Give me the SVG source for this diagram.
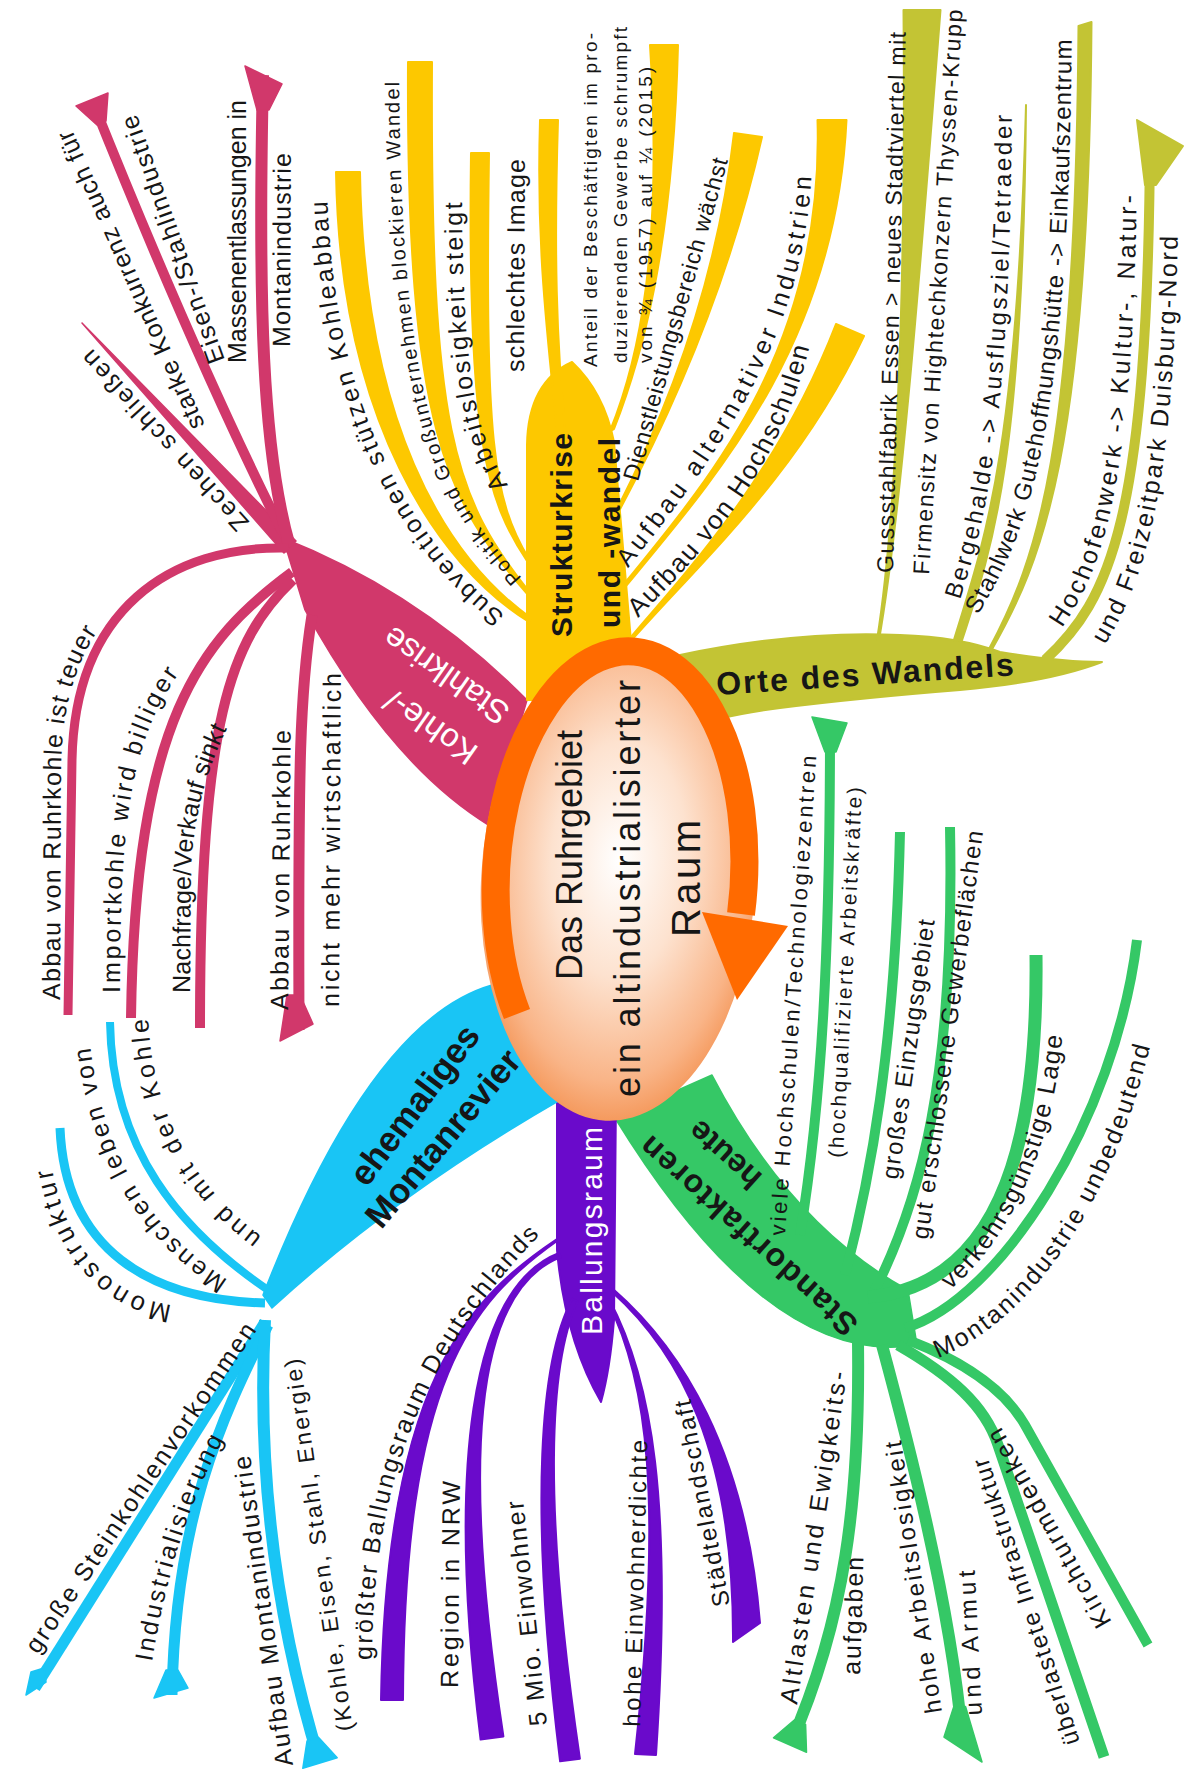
<svg xmlns="http://www.w3.org/2000/svg" width="1195" height="1787" viewBox="0 0 1195 1787">
<defs>
<style>
.t{font-family:"Liberation Sans",Arial,sans-serif;fill:#161616}
.b{font-weight:bold}
.w{fill:#ffffff}
.mg{fill:#d1386b;stroke:#d1386b;stroke-width:1.5;stroke-linejoin:round}
.mgs{fill:none;stroke:#d1386b}
.yl{fill:#fdc800;stroke:#fdc800;stroke-width:2;stroke-linejoin:round}
.ol{fill:#c3c434;stroke:#c3c434;stroke-width:2;stroke-linejoin:round}
.ols{fill:none;stroke:#c3c434}
.gr{fill:#35c866;stroke:#35c866;stroke-width:1.5;stroke-linejoin:round}
.grs{fill:none;stroke:#35c866}
.pu{fill:#6a0acb;stroke:#6a0acb;stroke-width:2;stroke-linejoin:round}
.cy{fill:#19c5f5;stroke:#19c5f5;stroke-width:1.5;stroke-linejoin:round}
.cys{fill:none;stroke:#19c5f5}
</style>
<radialGradient id="eg" cx="0.5" cy="0.45" r="0.55">
<stop offset="0" stop-color="#ffffff"/>
<stop offset="0.45" stop-color="#fde2cf"/>
<stop offset="0.85" stop-color="#f9b487"/>
<stop offset="1" stop-color="#f59a5e"/>
</radialGradient>
<path id="tp-zechen" d="M 250,522 L 72,326"/>
<path id="tp-starke" d="M 205,425 L 62,107"/>
<path id="tp-eisen" d="M 225,360 L 128,90"/>
<path id="tp-massen" d="M 246,363 L 246,70"/>
<path id="tp-montan" d="M 290,347 L 291,120"/>
<path id="tp-abbau1" d="M 60,1000 L 61,770 C 62,680 90,630 130,595 L 160,575"/>
<path id="tp-import" d="M 120,993 C 120,820 130,730 190,660 L 210,640"/>
<path id="tp-nach" d="M 190,993 L 191,870 Q 196,760 262,672 L 280,660"/>
<path id="tp-abbau2" d="M 288,1010 L 291,700"/>
<path id="tp-nicht" d="M 339,1007 L 341,640"/>
<path id="tp-subv" d="M 505,615 C 425,550 330,425 327,180"/>
<path id="tp-politik" d="M 522,578 C 445,492 400,425 399,60"/>
<path id="tp-arbeit" d="M 508,485 C 477,436 462,380 462,185"/>
<path id="tp-image" d="M 524,372 L 525,130"/>
<path id="tp-ant1" d="M 597,367 L 597,20"/>
<path id="tp-ant2" d="M 627,363 L 627,15"/>
<path id="tp-ant3" d="M 652,363 L 652,40"/>
<path id="tp-dienst" d="M 638,482 L 734,139"/>
<path id="tp-altern" d="M 628,568 C 712,462 812,335 812,150"/>
<path id="tp-hoch" d="M 638,618 C 710,545 790,460 815,320"/>
<path id="tp-guss" d="M 893,573 L 906,20"/>
<path id="tp-firmen" d="M 929,575 L 963,0"/>
<path id="tp-berg" d="M 960,600 C 985,520 1010,440 1012,95"/>
<path id="tp-stahl" d="M 978,615 C 1028,530 1070,440 1072,10"/>
<path id="tp-ofen1" d="M 1062,628 C 1105,565 1134,480 1137,170"/>
<path id="tp-ofen2" d="M 1105,645 C 1148,575 1175,480 1178,215"/>
<path id="tp-viele" d="M 785,1236 L 817,745"/>
<path id="tp-hochq" d="M 843,1158 L 863,770"/>
<path id="tp-gross" d="M 898,1180 L 937,905"/>
<path id="tp-gut" d="M 928,1240 L 986,810"/>
<path id="tp-verk" d="M 950,1290 C 1010,1240 1060,1140 1064,1005"/>
<path id="tp-gmon" d="M 938,1358 C 1030,1322 1120,1200 1157,1015"/>
<path id="tp-alt1" d="M 797,1705 L 849,1360"/>
<path id="tp-alt2" d="M 860,1675 L 864,1540"/>
<path id="tp-hohe1" d="M 942,1712 L 898,1420"/>
<path id="tp-hohe2" d="M 982,1715 L 974,1555"/>
<path id="tp-uber" d="M 1080,1742 L 975,1418"/>
<path id="tp-kirch" d="M 1112,1622 L 985,1399"/>
<path id="tp-pgross" d="M 372,1660 C 372,1460 440,1330 560,1215"/>
<path id="tp-region" d="M 458,1688 L 460,1470"/>
<path id="tp-5mio" d="M 547,1725 L 521,1480"/>
<path id="tp-phohe" d="M 640,1727 L 648,1420"/>
<path id="tp-stadt" d="M 730,1605 L 688,1385"/>
<path id="tp-mono" d="M 172,1305 C 120,1298 50,1255 46,1110"/>
<path id="tp-mensch" d="M 228,1280 C 150,1230 96,1150 88,1020"/>
<path id="tp-und" d="M 262,1237 C 200,1190 150,1120 148,1010"/>
<path id="tp-grosse" d="M 38,1655 L 265,1318"/>
<path id="tp-indus" d="M 152,1662 C 166,1580 186,1500 235,1420"/>
<path id="tp-aufb1" d="M 293,1765 L 248,1440"/>
<path id="tp-aufb2" d="M 353,1730 L 298,1345"/>
</defs>
<rect width="1195" height="1787" fill="#ffffff"/>

<g id="connectors">
<!-- magenta -->
<path class="mg" d="M 283,538 Q 420,592 527,700 L 490,826 Q 390,765 305,610 Z"/>
<polygon class="mg" points="296,541 284,553 82,323"/>
<path class="mgs" stroke-width="10" d="M 290,547 C 230,429 164,280 92,100"/>
<polygon class="mg" points="108,93 106,121 97,125 76,106"/>
<path class="mgs" stroke-width="12" d="M 290,547 C 262,450 258,300 263,75"/>
<polygon class="mg" points="245,66 282,84 269,110 257,110"/>
<path class="mgs" stroke-width="9" d="M 288,548 C 170,545 75,610 72,760 L 68,1015"/>
<path class="mgs" stroke-width="10" d="M 292,572 C 200,640 135,720 131,1018"/>
<path class="mgs" stroke-width="10" d="M 293,580 C 230,640 200,720 200,1028"/>
<path class="mgs" stroke-width="11" d="M 312,615 C 300,690 298,760 299,1030"/>
<polygon class="mg" points="287,995 300,995 313,1024 280,1041"/>
<!-- yellow -->
<path class="yl" d="M 527,700 L 527,445 Q 528,382 572,362 Q 604,392 614,442 L 636,700 Z"/>
<path class="yl" d="M 531,618 C 443,555 364,420 360,172 L 336,172 C 340,420 437,565 529,622 Z"/>
<path class="yl" d="M 531,594 C 453,497 430,430 432,62 L 408,62 C 406,430 447,503 529,596 Z"/>
<path class="yl" d="M 529,559 C 492.5,498 485,440 489,153 L 471,153 C 467,440 487.5,502 527,561 Z"/>
<path class="yl" d="M 566,440 C 556,340 554,250 558,120 L 540,120 C 536,250 548,340 558,440 Z"/>
<path class="yl" d="M 614,429 C 641,360 673,250 678,45 L 650,45 C 663,250 639,360 610,431 Z"/>
<path class="yl" d="M 618,513 C 662,431 725,301 762,137 L 734,133 C 715,299 658,429 616,511 Z"/>
<path class="yl" d="M 626,586 C 721.5,471 836,340 846.5,120 L 817.5,120 C 824,340 718.5,469 624,584 Z"/>
<path class="yl" d="M 631,641 C 701.5,561 799,474 864,336 L 836,324 C 781,466 698.5,559 629,639 Z"/>
<!-- olive -->
<path class="ol" d="M 680,655 Q 800,630 900,635 Q 960,637 1000,652 Q 1060,662 1102,662 Q 1050,682 960,690 Q 860,698 780,708 Q 720,716 680,730 Z"/>
<path class="ol" d="M 879,640 C 900,520 918,300 940.5,10 L 903.5,10 C 906,300 896,520 877,640 Z"/>
<path class="ol" d="M 961.8,641 C 994.8,541.5 1023,450 1026,105 C 1017,450 985.2,538.5 954.2,639 Z"/>
<path class="ol" d="M 991,651 C 1042.6,561.5 1088.5,450 1091.5,22 L 1078.5,26 C 1075.5,450 1037.4,558.5 989,649 Z"/>
<path class="ols" stroke-width="10" d="M 1045,660 C 1110,600 1148,520 1150,140"/>
<polygon class="ol" points="1137,120 1183,146 1156,185 1145,185"/>
<!-- green -->
<path class="gr" d="M 712,1075 Q 790,1225 908,1290 L 917,1345 Q 770,1370 615,1118 Z"/>
<path class="grs" stroke-width="10" d="M 800,1235 C 822,1100 830,950 830,730"/>
<polygon class="gr" points="812,717 847,723 836,752 825,752"/>
<path class="grs" stroke-width="10" d="M 845,1275 C 870,1180 895,1050 900,832"/>
<path class="grs" stroke-width="10" d="M 875,1290 C 920,1200 955,1080 950,827"/>
<path class="grs" stroke-width="13" d="M 868,1297 C 1010,1285 1038,1120 1036,955"/>
<path class="grs" stroke-width="10" d="M 905,1328 C 1000,1300 1115,1120 1137,940"/>
<path class="grs" stroke-width="12" d="M 858,1342 C 860,1500 845,1620 790,1745"/>
<polygon class="gr" points="773.5,1737.7 794.6,1719.7 805.6,1724.5 806.5,1752.3"/>
<path class="grs" stroke-width="12" d="M 882,1345 C 905,1430 950,1600 962,1735"/>
<polygon class="gr" points="944,1737 953.5,1707.5 965.5,1706.5 982,1762"/>
<path class="grs" stroke-width="11" d="M 898,1345 C 950,1375 985,1405 998,1445 L 1104,1757"/>
<path class="grs" stroke-width="10" d="M 908,1340 C 965,1362 1005,1390 1025,1425 L 1148,1645"/>
<!-- purple -->
<path class="pu" d="M 557,1095 L 557,1250 Q 565,1340 601,1402 Q 610,1370 614,1320 L 616,1095 Z"/>
<path class="pu" d="M 557,1239 C 469,1298 386,1380 381,1700 L 403,1700 C 404,1380 471,1302 557,1241 Z"/>
<path class="pu" d="M 559,1253 C 469,1288 447,1471 480.6,1739.6 L 503.4,1736.4 C 463,1469 470.7,1292 561,1257 Z"/>
<path class="pu" d="M 572.3,1298.7 C 540.5,1357.8 528.1,1500.9 560.1,1761.3 L 579.9,1758.7 C 541.9,1499.1 549.5,1362.2 577.7,1301.3 Z"/>
<path class="pu" d="M 607,1300 C 648,1381 663,1500 635,1754 L 656,1755 C 673,1500 652,1379 609,1299 Z"/>
<path class="pu" d="M 611,1291 C 678.7,1351.5 734,1450 733,1642 L 760,1623 C 746,1450 681.3,1348.5 613,1289 Z"/>
<!-- cyan -->
<path class="cy" d="M 492,985 Q 370,1020 263,1295 L 272,1308 Q 395,1195 560,1100 Z"/>
<path class="cys" stroke-width="9" d="M 265,1303 C 150,1300 65,1250 60,1128"/>
<path class="cys" stroke-width="8" d="M 268,1290 C 180,1230 112,1150 110,1022"/>
<path class="cys" stroke-width="11" d="M 265,1322 L 35,1688"/>
<polygon class="cy" points="26,1695 31,1672 44,1668 46,1682"/>
<path class="cys" stroke-width="11" d="M 268,1325 C 220,1420 175,1520 172,1695"/>
<polygon class="cy" points="166,1670 178,1670 188,1688 154,1698"/>
<path class="cys" stroke-width="12" d="M 265,1320 C 258,1450 270,1600 320,1763"/>
<polygon class="cy" points="307,1741 318.4,1737.3 337.2,1757.7 302.8,1768.3"/>
</g>

<g id="node-center">
<ellipse cx="618" cy="883" rx="137" ry="238" fill="url(#eg)" transform="rotate(3 618 883)"/>
<path d="M 517,1014 A 124 225 3 1 1 741,914" fill="none" stroke="#ff6a00" stroke-width="28"/>
<polygon points="702,912 788,926 737,1000" fill="#ff6a00"/>
<text class="t" font-size="36" transform="translate(582 980) rotate(-90)" textLength="250">Das Ruhrgebiet</text>
<text class="t" font-size="36" transform="translate(640 1097) rotate(-90)" textLength="417">ein altindustrialisierter</text>
<text class="t" font-size="40" transform="translate(700 937) rotate(-90)" textLength="117">Raum</text>
</g>

<g id="node-kohle" font-size="25">
<text class="t w" font-size="33" transform="translate(480 748) rotate(-145)">Kohle-/</text>
<text class="t w" font-size="33" transform="translate(512 708) rotate(-145)">Stahlkrise</text>
<text class="t"><textPath href="#tp-zechen" textLength="235">Zechen schließen</textPath></text>
<text class="t"><textPath href="#tp-starke" textLength="325">starke Konkurrenz auch für</textPath></text>
<text class="t"><textPath href="#tp-eisen" textLength="262">Eisen-/Stahlindustrie</textPath></text>
<text class="t"><textPath href="#tp-massen" textLength="263">Massenentlassungen in</textPath></text>
<text class="t"><textPath href="#tp-montan" textLength="194">Montanindustrie</textPath></text>
<text class="t"><textPath href="#tp-abbau1" textLength="375">Abbau von Ruhrkohle ist teuer</textPath></text>
<text class="t"><textPath href="#tp-import" textLength="330">Importkohle wird billiger</textPath></text>
<text class="t"><textPath href="#tp-nach" textLength="270">Nachfrage/Verkauf sinkt</textPath></text>
<text class="t"><textPath href="#tp-abbau2" textLength="280">Abbau von Ruhrkohle</textPath></text>
<text class="t"><textPath href="#tp-nicht" textLength="334">nicht mehr wirtschaftlich</textPath></text>
</g>

<g id="node-struktur" font-size="25">
<text class="t b" font-size="30" transform="translate(572 637) rotate(-90)" textLength="204">Strukturkrise</text>
<text class="t b" font-size="30" transform="translate(620 628) rotate(-90)" textLength="190">und -wandel</text>
<text class="t"><textPath href="#tp-subv" textLength="465">Subventionen stützen Kohleabbau</textPath></text>
<text class="t" font-size="20"><textPath href="#tp-politik" textLength="525">Politik und Großunternehmen blockieren Wandel</textPath></text>
<text class="t"><textPath href="#tp-arbeit" textLength="290">Arbeitslosigkeit steigt</textPath></text>
<text class="t"><textPath href="#tp-image" textLength="213">schlechtes Image</textPath></text>
<text class="t" font-size="19"><textPath href="#tp-ant1" textLength="334">Anteil der Beschäftigten im pro-</textPath></text>
<text class="t" font-size="19"><textPath href="#tp-ant2" textLength="336">duzierenden Gewerbe schrumpft</textPath></text>
<text class="t" font-size="19"><textPath href="#tp-ant3" textLength="296">von ¾ (1957) auf ¼ (2015)</textPath></text>
<text class="t" font-size="23"><textPath href="#tp-dienst" textLength="334">Dienstleistungsbereich wächst</textPath></text>
<text class="t"><textPath href="#tp-altern" textLength="440">Aufbau alternativer Industrien</textPath></text>
<text class="t" font-size="26"><textPath href="#tp-hoch" textLength="325">Aufbau von Hochschulen</textPath></text>
</g>

<g id="node-orte" font-size="25">
<text class="t b" font-size="32" transform="translate(717 695) rotate(-3.8)" textLength="298">Orte des Wandels</text>
<text class="t" font-size="23"><textPath href="#tp-guss" textLength="541">Gussstahlfabrik Essen &gt; neues Stadtviertel mit</textPath></text>
<text class="t" font-size="23"><textPath href="#tp-firmen" textLength="566">Firmensitz von Hightechkonzern Thyssen-Krupp</textPath></text>
<text class="t" font-size="24"><textPath href="#tp-berg" textLength="490">Bergehalde -&gt; Ausflugsziel/Tetraeder</textPath></text>
<text class="t" font-size="24"><textPath href="#tp-stahl" textLength="590">Stahlwerk Gutehoffnungshütte -&gt; Einkaufszentrum</textPath></text>
<text class="t"><textPath href="#tp-ofen1" textLength="445">Hochofenwerk -&gt; Kultur-, Natur-</textPath></text>
<text class="t"><textPath href="#tp-ofen2" textLength="420">und Freizeitpark Duisburg-Nord</textPath></text>
</g>

<g id="node-standort" font-size="25">
<text class="t b" font-size="32" transform="translate(860 1322) rotate(-138)" textLength="281">Standortfaktoren</text>
<text class="t b" font-size="32" text-anchor="middle" transform="translate(732 1147) rotate(-138)">heute</text>
<text class="t" font-size="22"><textPath href="#tp-viele" textLength="481">viele Hochschulen/Technologiezentren</textPath></text>
<text class="t" font-size="21"><textPath href="#tp-hochq" textLength="371">(hochqualifizierte Arbeitskräfte)</textPath></text>
<text class="t" font-size="24"><textPath href="#tp-gross" textLength="262">großes Einzugsgebiet</textPath></text>
<text class="t" font-size="24"><textPath href="#tp-gut" textLength="412">gut erschlossene Gewerbeflächen</textPath></text>
<text class="t"><textPath href="#tp-verk" textLength="285">verkehrsgünstige Lage</textPath></text>
<text class="t"><textPath href="#tp-gmon" textLength="390">Montanindustrie unbedeutend</textPath></text>
<text class="t"><textPath href="#tp-alt1" textLength="336">Altlasten und Ewigkeits-</textPath></text>
<text class="t"><textPath href="#tp-alt2" textLength="118">aufgaben</textPath></text>
<text class="t" font-size="24"><textPath href="#tp-hohe1" textLength="275">hohe Arbeitslosigkeit</textPath></text>
<text class="t" font-size="24"><textPath href="#tp-hohe2" textLength="145">und Armut</textPath></text>
<text class="t" font-size="24"><textPath href="#tp-uber" textLength="300">überlastete Infrastruktur</textPath></text>
<text class="t"><textPath href="#tp-kirch" textLength="225">Kirchturmdenken</textPath></text>
</g>

<g id="node-ballung" font-size="25">
<text class="t w" font-size="30" transform="translate(602 1335) rotate(-90)" textLength="208">Ballungsraum</text>
<text class="t"><textPath href="#tp-pgross" textLength="470">größter Ballungsraum Deutschlands</textPath></text>
<text class="t"><textPath href="#tp-region" textLength="207">Region in NRW</textPath></text>
<text class="t"><textPath href="#tp-5mio" textLength="226">5 Mio. Einwohner</textPath></text>
<text class="t" font-size="24"><textPath href="#tp-phohe" textLength="287">hohe Einwohnerdichte</textPath></text>
<text class="t" font-size="24"><textPath href="#tp-stadt" textLength="210">Städtelandschaft</textPath></text>
</g>

<g id="node-montan" font-size="25">
<text class="t b" font-size="35" text-anchor="middle" transform="translate(424 1112) rotate(-53)">ehemaliges</text>
<text class="t b" font-size="35" text-anchor="middle" transform="translate(452 1146) rotate(-50)">Montanrevier</text>
<text class="t" font-size="26"><textPath href="#tp-mono" textLength="195">Monostruktur</textPath></text>
<text class="t"><textPath href="#tp-mensch" textLength="280">Menschen leben von</textPath></text>
<text class="t"><textPath href="#tp-und" textLength="255">und mit der Kohle</textPath></text>
<text class="t"><textPath href="#tp-grosse" textLength="392">große Steinkohlenvorkommen</textPath></text>
<text class="t"><textPath href="#tp-indus" textLength="235">Industrialisierung</textPath></text>
<text class="t"><textPath href="#tp-aufb1" textLength="313">Aufbau Montanindustrie</textPath></text>
<text class="t" font-size="23"><textPath href="#tp-aufb2" textLength="376">(Kohle, Eisen, Stahl, Energie)</textPath></text>
</g>
</svg>
